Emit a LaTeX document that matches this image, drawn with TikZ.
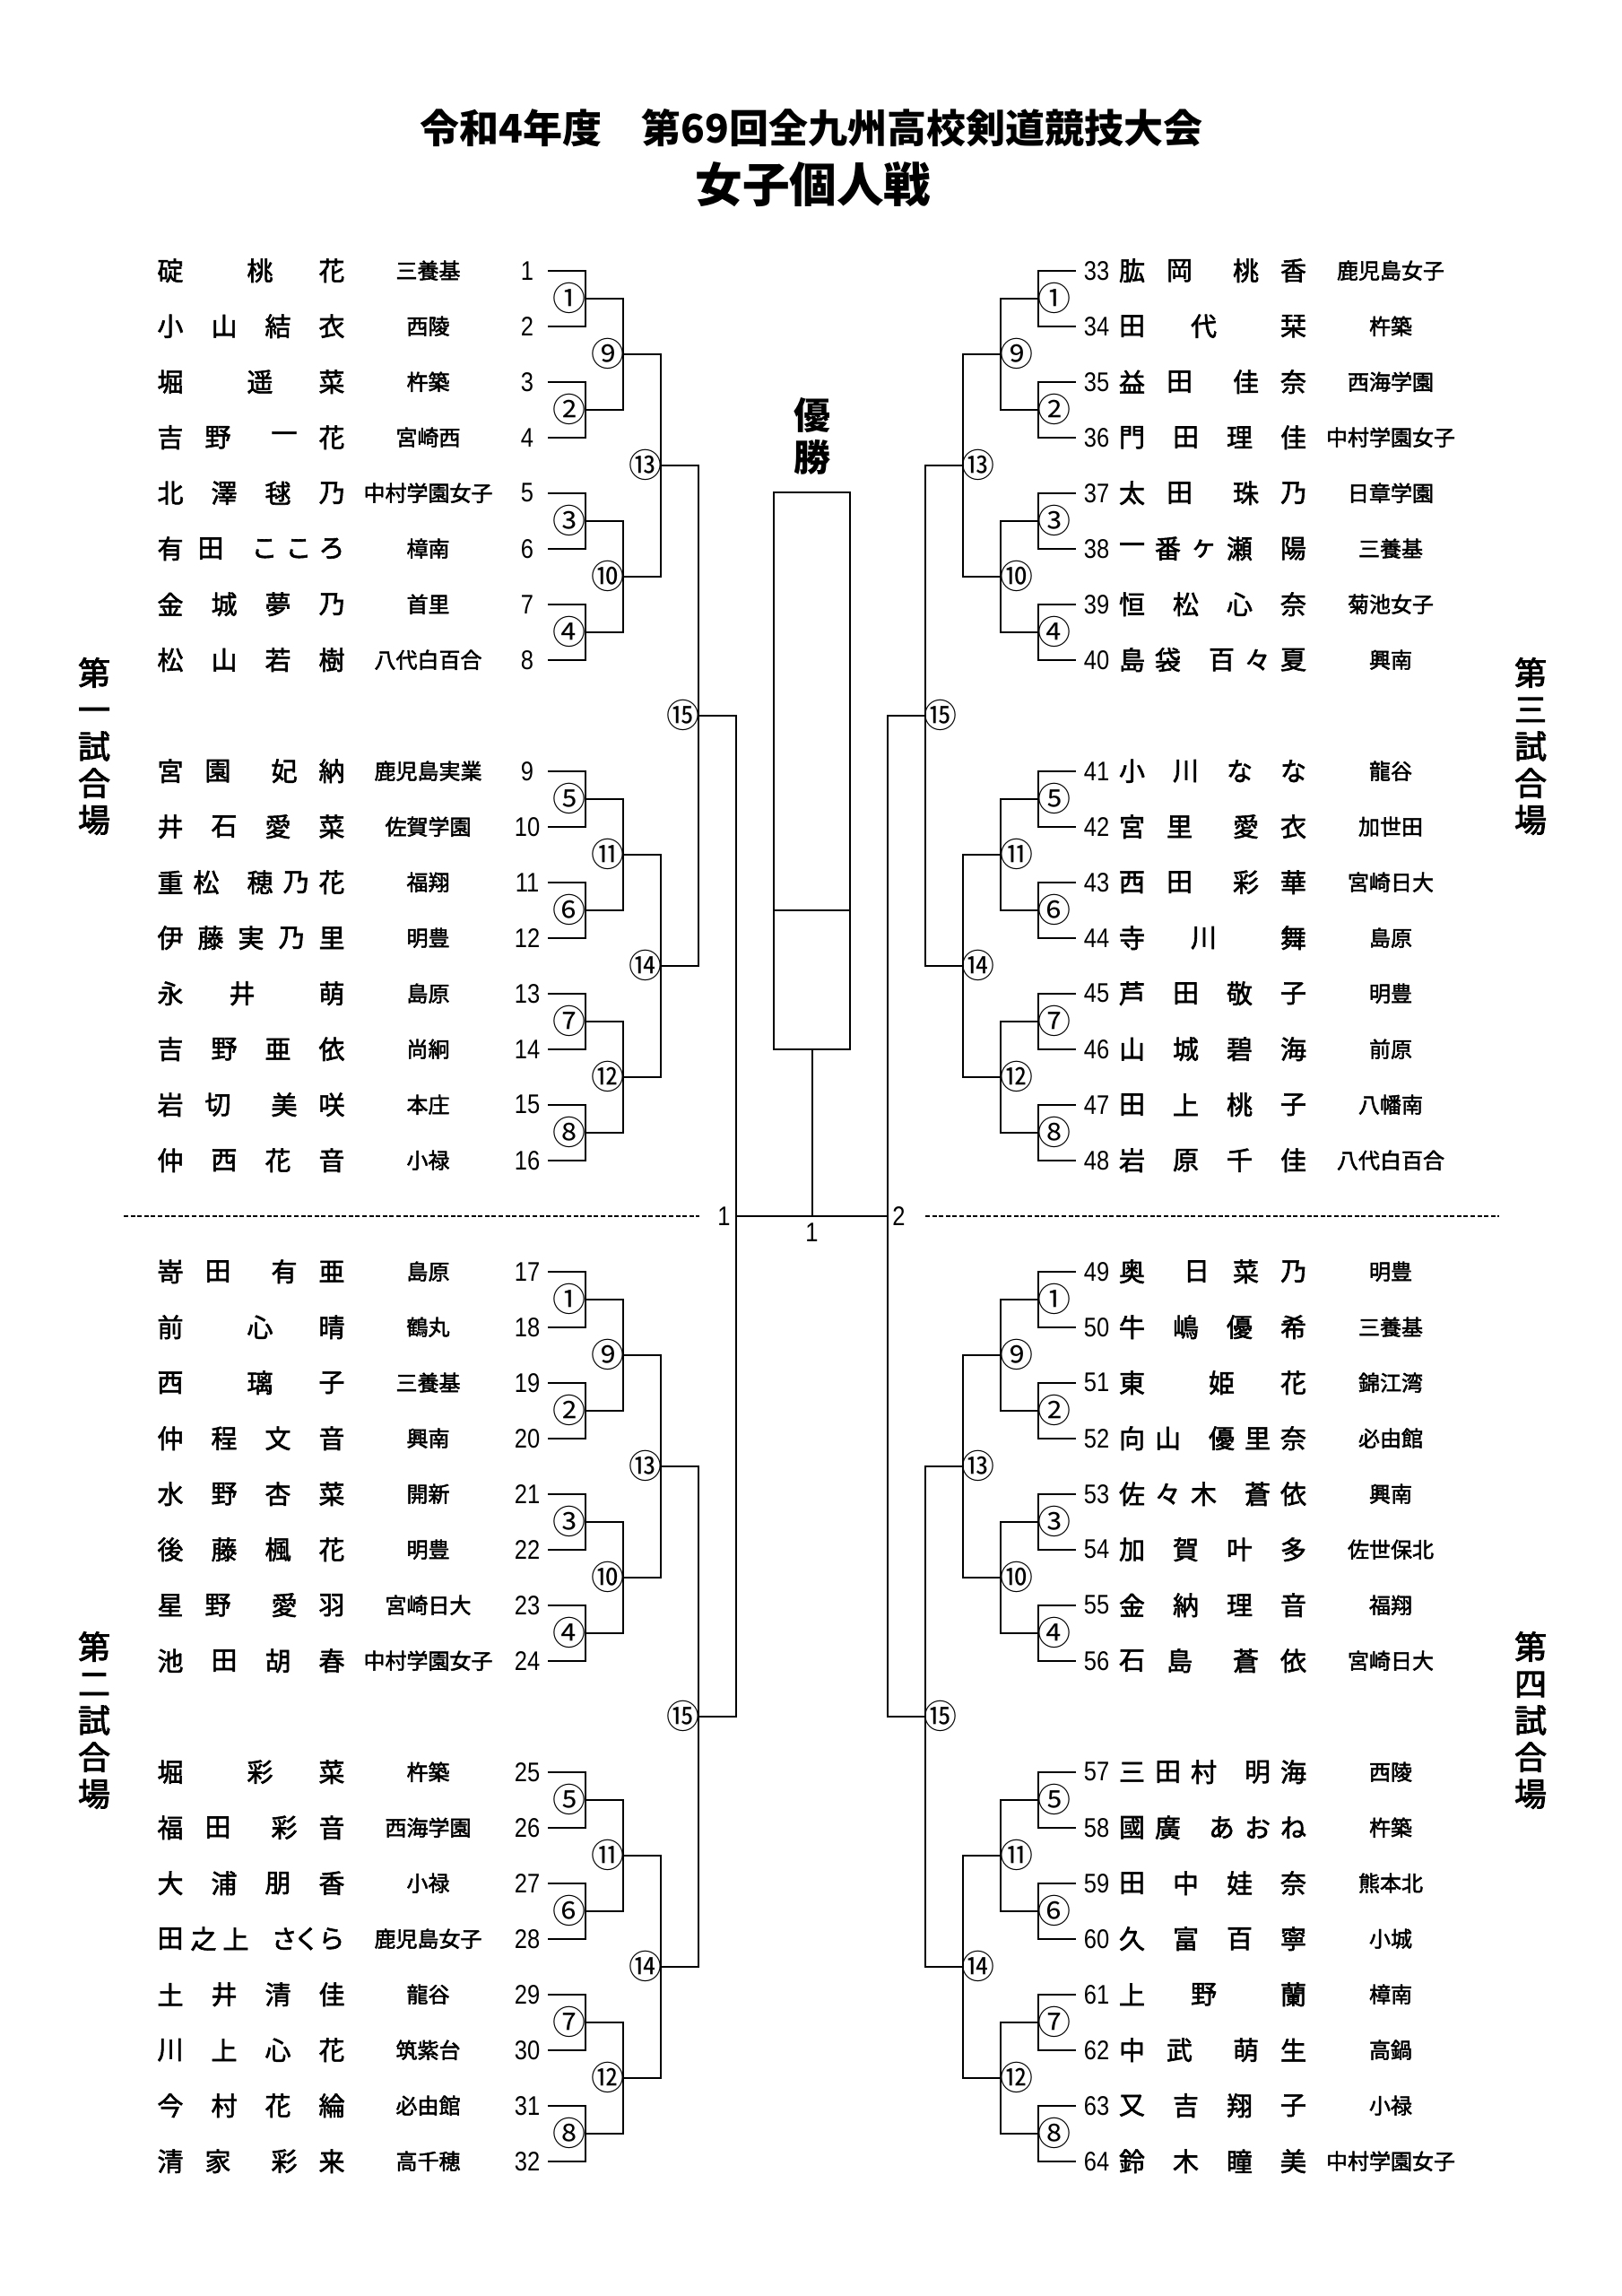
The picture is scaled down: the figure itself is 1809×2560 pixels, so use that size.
\documentclass[tikz,border=0pt]{standalone}
\usepackage{fontspec}
\newfontfamily\cjk{Noto Sans CJK JP}
\newfontfamily\cjkm[FakeBold=2]{Noto Sans CJK JP}
\newfontfamily\cjks[FakeBold=2.6]{Noto Sans CJK JP}
\newfontfamily\numf[FakeStretch=0.85]{Liberation Sans}
\usetikzlibrary{calc}
\newcommand\NameL[3]{%
  \pgfmathtruncatemacro\rr{#1-1}%
  \pgfmathsetmacro\yy{301.7+62*(\rr+floor(\rr/8))}%
  \node[numtxt] (num#1) at (588,\yy) {#1};%
  \foreach \ofs/\chr [count=\k] in {#2} {\node[nametxt] (nm#1-\k) at (190+\ofs,\yy) {\chr};}%
  \node[schooltxt] (sc#1) at (477.5,\yy) {#3};%
}
\newcommand\NameR[3]{%
  \pgfmathtruncatemacro\rr{#1-33}%
  \pgfmathsetmacro\yy{301.7+62*(\rr+floor(\rr/8))}%
  \node[numtxt] (num#1) at (1223,\yy) {#1};%
  \foreach \ofs/\chr [count=\k] in {#2} {\node[nametxt] (nm#1-\k) at (1262.5+\ofs,\yy) {\chr};}%
  \node[schooltxt] (sc#1) at (1551,\yy) {#3};%
}
\begin{document}
\begin{tikzpicture}[x=0.5pt,y=-0.5pt,
  nametxt/.style={inner sep=0pt, font=\cjkm\fontsize{14.5}{16}\selectfont},
  schooltxt/.style={inner sep=0pt, font=\cjkm\fontsize{12}{14}\selectfont},
  numtxt/.style={inner sep=0pt, font=\numf\fontsize{15}{17}\selectfont},
  circtxt/.style={inner sep=0pt, font=\cjk\fontsize{18.5}{20}\selectfont},
  sidetxt/.style={inner sep=0pt, align=center, font=\cjks\fontsize{18}{20.5}\selectfont},
  brk/.style={line width=1pt, line join=miter},
  dashline/.style={line width=0.8pt, dash pattern=on 2.5pt off 1.3pt}]
\useasboundingbox (0,0) rectangle (1809,2560);
\fill[white] (0,0) rectangle (1809,2560);

% titles
\node[inner sep=0pt, font=\cjk\bfseries\fontsize{22}{24}\selectfont] (title1) at (905,143) {令和4年度　第69回全九州高校剣道競技大会};
\node[inner sep=0pt, font=\cjk\bfseries\fontsize{26.3}{28}\selectfont] (title2) at (907,206) {女子個人戦};

% side labels
\node[sidetxt] (side1) at (105,832) {第\\一\\試\\合\\場};
\node[sidetxt] (side2) at (105,1918) {第\\二\\試\\合\\場};
\node[sidetxt] (side3) at (1707,832) {第\\三\\試\\合\\場};
\node[sidetxt] (side4) at (1707,1918) {第\\四\\試\\合\\場};

% brackets
\foreach \sd/\sg in {L/-1,R/1}{
  \foreach \i in {0,...,31}{
    \pgfmathsetmacro\yy{301.7+62*(\i+floor(\i/8))}
    \pgfmathsetmacro\xx{905.5+(\sg)*7*42.1}
    \coordinate (\sd0-\i) at (\xx,\yy);
  }
  \foreach \j in {0,...,15}{
    \pgfmathsetmacro\yy{301.7+62*(2*\j+0.5+floor(\j/4))}
    \pgfmathsetmacro\xx{905.5+(\sg)*6*42.1}
    \pgfmathsetmacro\xl{\xx+(\sg)*17.5}
    \pgfmathtruncatemacro\ca{2*\j}
    \pgfmathtruncatemacro\cb{2*\j+1}
    \pgfmathtruncatemacro\cn{mod(\j,8)+1}
    \coordinate (\sd1-\j) at (\xx,\yy);
    \draw[brk] (\sd0-\ca) -| (\sd1-\j) |- (\sd0-\cb);
    \node[circtxt] (\sd-c1-\j) at (\xl,\yy) {\char\numexpr9311+\cn\relax};
  }
  \foreach \j in {0,...,7}{
    \pgfmathsetmacro\yy{301.7+62*(4*\j+1.5+floor(\j/2))}
    \pgfmathsetmacro\xx{905.5+(\sg)*5*42.1}
    \pgfmathsetmacro\xl{\xx+(\sg)*17.5}
    \pgfmathtruncatemacro\ca{2*\j}
    \pgfmathtruncatemacro\cb{2*\j+1}
    \pgfmathtruncatemacro\cn{mod(\j,4)+9}
    \coordinate (\sd2-\j) at (\xx,\yy);
    \draw[brk] (\sd1-\ca) -| (\sd2-\j) |- (\sd1-\cb);
    \node[circtxt] (\sd-c2-\j) at (\xl,\yy) {\char\numexpr9311+\cn\relax};
  }
  \foreach \j in {0,...,3}{
    \pgfmathsetmacro\yy{301.7+62*(9*\j+3.5)}
    \pgfmathsetmacro\xx{905.5+(\sg)*4*42.1}
    \pgfmathsetmacro\xl{\xx+(\sg)*17.5}
    \pgfmathtruncatemacro\ca{2*\j}
    \pgfmathtruncatemacro\cb{2*\j+1}
    \pgfmathtruncatemacro\cn{mod(\j,2)+13}
    \coordinate (\sd3-\j) at (\xx,\yy);
    \draw[brk] (\sd2-\ca) -| (\sd3-\j) |- (\sd2-\cb);
    \node[circtxt] (\sd-c3-\j) at (\xl,\yy) {\char\numexpr9311+\cn\relax};
  }
  \foreach \j in {0,1}{
    \pgfmathsetmacro\yy{301.7+62*(18*\j+8)}
    \pgfmathsetmacro\xx{905.5+(\sg)*3*42.1}
    \pgfmathsetmacro\xl{\xx+(\sg)*17.5}
    \pgfmathtruncatemacro\ca{2*\j}
    \pgfmathtruncatemacro\cb{2*\j+1}
    \coordinate (\sd4-\j) at (\xx,\yy);
    \draw[brk] (\sd3-\ca) -| (\sd4-\j) |- (\sd3-\cb);
    \node[circtxt] (\sd-c4-\j) at (\xl,\yy) {⑮};
  }
  \pgfmathsetmacro\xx{905.5+(\sg)*2*42.1}
  \coordinate (\sd5) at (\xx,1355.7);
  \draw[brk] (\sd4-0) -| (\sd5) |- (\sd4-1);
}

% final and winner box
\coordinate (fin) at (905.5,1355.7);
\draw[brk] (L5) -- (R5);
\coordinate (boxtl) at (863.4,549);
\coordinate (boxbr) at (947.6,1170);
\coordinate (divl) at (863.4,1015);
\coordinate (divr) at (947.6,1015);
\coordinate (boxb) at (905.5,1170);
\draw[brk] (boxtl) rectangle (boxbr);
\draw[brk] (divl) -- (divr);
\draw[brk] (boxb) -- (fin);
\node[inner sep=0pt, font=\cjk\bfseries\fontsize{20.5}{22}\selectfont] (yu) at (905.5,463) {優};
\node[inner sep=0pt, font=\cjk\bfseries\fontsize{20.5}{22}\selectfont] (sho) at (905.5,510) {勝};
\node[numtxt, anchor=east] (lab1) at (815,1355.7) {1};
\node[numtxt, anchor=west] (lab2) at (995,1355.7) {2};
\node[numtxt] (lab3) at (905.5,1374) {1};

% dashed separators
\coordinate (dl1) at (138,1355.7);
\coordinate (dl2) at (780,1355.7);
\coordinate (dr1) at (1032,1355.7);
\coordinate (dr2) at (1672,1355.7);
\draw[dashline] (dl1) -- (dl2);
\draw[dashline] (dr1) -- (dr2);

% left players
\NameL{1}{0/碇,100/桃,180/花}{三養基}
\NameL{2}{0/小,60/山,120/結,180/衣}{西陵}
\NameL{3}{0/堀,100/遥,180/菜}{杵築}
\NameL{4}{0/吉,53/野,127/一,180/花}{宮崎西}
\NameL{5}{0/北,60/澤,120/毬,180/乃}{中村学園女子}
\NameL{6}{0/有,45/田,105/こ,143/こ,180/ろ}{樟南}
\NameL{7}{0/金,60/城,120/夢,180/乃}{首里}
\NameL{8}{0/松,60/山,120/若,180/樹}{八代白百合}
\NameL{9}{0/宮,53/園,127/妃,180/納}{鹿児島実業}
\NameL{10}{0/井,60/石,120/愛,180/菜}{佐賀学園}
\NameL{11}{0/重,40/松,100/穂,140/乃,180/花}{福翔}
\NameL{12}{0/伊,45/藤,90/実,135/乃,180/里}{明豊}
\NameL{13}{0/永,80/井,180/萌}{島原}
\NameL{14}{0/吉,60/野,120/亜,180/依}{尚絅}
\NameL{15}{0/岩,53/切,127/美,180/咲}{本庄}
\NameL{16}{0/仲,60/西,120/花,180/音}{小禄}
\NameL{17}{0/嵜,53/田,127/有,180/亜}{島原}
\NameL{18}{0/前,100/心,180/晴}{鶴丸}
\NameL{19}{0/西,100/璃,180/子}{三養基}
\NameL{20}{0/仲,60/程,120/文,180/音}{興南}
\NameL{21}{0/水,60/野,120/杏,180/菜}{開新}
\NameL{22}{0/後,60/藤,120/楓,180/花}{明豊}
\NameL{23}{0/星,53/野,127/愛,180/羽}{宮崎日大}
\NameL{24}{0/池,60/田,120/胡,180/春}{中村学園女子}
\NameL{25}{0/堀,100/彩,180/菜}{杵築}
\NameL{26}{0/福,53/田,127/彩,180/音}{西海学園}
\NameL{27}{0/大,60/浦,120/朋,180/香}{小禄}
\NameL{28}{0/田,37/之,73/上,127/さ,152/く,180/ら}{鹿児島女子}
\NameL{29}{0/土,60/井,120/清,180/佳}{龍谷}
\NameL{30}{0/川,60/上,120/心,180/花}{筑紫台}
\NameL{31}{0/今,60/村,120/花,180/綸}{必由館}
\NameL{32}{0/清,53/家,127/彩,180/来}{高千穂}

% right players
\NameR{33}{0/肱,53/岡,127/桃,180/香}{鹿児島女子}
\NameR{34}{0/田,80/代,180/栞}{杵築}
\NameR{35}{0/益,53/田,127/佳,180/奈}{西海学園}
\NameR{36}{0/門,60/田,120/理,180/佳}{中村学園女子}
\NameR{37}{0/太,53/田,127/珠,180/乃}{日章学園}
\NameR{38}{0/一,40/番,80/ヶ,120/瀬,180/陽}{三養基}
\NameR{39}{0/恒,60/松,120/心,180/奈}{菊池女子}
\NameR{40}{0/島,40/袋,100/百,140/々,180/夏}{興南}
\NameR{41}{0/小,60/川,120/な,180/な}{龍谷}
\NameR{42}{0/宮,53/里,127/愛,180/衣}{加世田}
\NameR{43}{0/西,53/田,127/彩,180/華}{宮崎日大}
\NameR{44}{0/寺,80/川,180/舞}{島原}
\NameR{45}{0/芦,60/田,120/敬,180/子}{明豊}
\NameR{46}{0/山,60/城,120/碧,180/海}{前原}
\NameR{47}{0/田,60/上,120/桃,180/子}{八幡南}
\NameR{48}{0/岩,60/原,120/千,180/佳}{八代白百合}
\NameR{49}{0/奥,72/日,127/菜,180/乃}{明豊}
\NameR{50}{0/牛,60/嶋,120/優,180/希}{三養基}
\NameR{51}{0/東,100/姫,180/花}{錦江湾}
\NameR{52}{0/向,40/山,100/優,140/里,180/奈}{必由館}
\NameR{53}{0/佐,40/々,80/木,140/蒼,180/依}{興南}
\NameR{54}{0/加,60/賀,120/叶,180/多}{佐世保北}
\NameR{55}{0/金,60/納,120/理,180/音}{福翔}
\NameR{56}{0/石,53/島,127/蒼,180/依}{宮崎日大}
\NameR{57}{0/三,40/田,80/村,140/明,180/海}{西陵}
\NameR{58}{0/國,40/廣,100/あ,140/お,180/ね}{杵築}
\NameR{59}{0/田,60/中,120/娃,180/奈}{熊本北}
\NameR{60}{0/久,60/富,120/百,180/寧}{小城}
\NameR{61}{0/上,80/野,180/蘭}{樟南}
\NameR{62}{0/中,53/武,127/萌,180/生}{高鍋}
\NameR{63}{0/又,60/吉,120/翔,180/子}{小禄}
\NameR{64}{0/鈴,60/木,120/瞳,180/美}{中村学園女子}
\end{tikzpicture}
\end{document}
